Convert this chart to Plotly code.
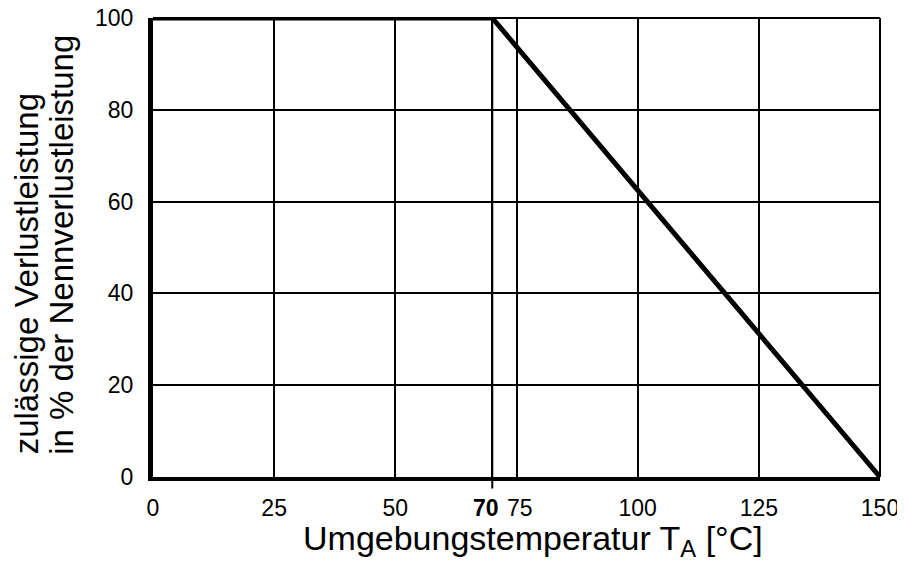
import plotly.graph_objects as go

# Data
temp_c = [0, 70, 150]
power_pct = [100, 100, 0]

x_tickvals = [0, 25, 50, 70, 75, 100, 125, 150]
x_ticktext = ["0", "25", "50", "<b>70</b>\u00a0\u00a0", "\u00a075", "100", "125", "150"]
y_tickvals = [0, 20, 40, 60, 80, 100]
y_ticktext = ["0", "20", "40", "60", "80", "100"]

x_title = "Umgebungstemperatur T<sub>A</sub> [°C]"
y_title_lines = ["zulässige Verlustleistung", "in % der Nennverlustleistung"]

fig = go.Figure()
fig.add_trace(go.Scatter(
    x=temp_c, y=power_pct, mode="lines",
    line=dict(color="black", width=5),
    cliponaxis=False, showlegend=False, hoverinfo="skip"
))

font_family = "Liberation Sans, Arial, sans-serif"

fig.update_layout(
    width=897, height=560,
    margin=dict(l=145, r=25, t=10, b=91),
    paper_bgcolor="white", plot_bgcolor="white",
    font=dict(family=font_family, color="black"),
    xaxis=dict(
        range=[0, 150], tickvals=x_tickvals, ticktext=x_ticktext,
        showgrid=True, gridcolor="black", gridwidth=2,
        showline=True, linecolor="black", linewidth=4,
        zeroline=False, ticks="", ticklabelstandoff=7, tickangle=0,
        automargin=False, ticklabeloverflow="allow",
        tickfont=dict(size=23, family=font_family, color="black"),
    ),
    yaxis=dict(
        range=[0, 100], tickvals=y_tickvals, ticktext=y_ticktext,
        showgrid=True, gridcolor="black", gridwidth=2,
        showline=True, linecolor="black", linewidth=5,
        zeroline=False, ticks="", ticklabelstandoff=10,
        automargin=False, ticklabeloverflow="allow",
        tickfont=dict(size=23, family=font_family, color="black"),
    ),
    shapes=[
        dict(type="line", xref="x domain", yref="y domain", x0=0, x1=1, y0=1, y1=1,
             line=dict(color="black", width=2)),
        dict(type="line", xref="x domain", yref="y domain", x0=1, x1=1, y0=0, y1=1,
             line=dict(color="black", width=2)),
        dict(type="line", xref="x", yref="y domain", x0=70, x1=70, y0=-0.025, y1=1,
             line=dict(color="black", width=2)),
    ],
    annotations=[
        dict(text=x_title, xref="paper", yref="paper", x=0.523, y=-0.139,
             xanchor="center", yanchor="middle", showarrow=False,
             font=dict(size=34, family=font_family, color="black")),
        dict(text=y_title_lines[0], xref="paper", yref="paper", x=-0.174, y=0.045,
             xanchor="center", yanchor="bottom", textangle=-90, showarrow=False,
             font=dict(size=33, family=font_family, color="black")),
        dict(text=y_title_lines[1], xref="paper", yref="paper", x=-0.126, y=0.045,
             xanchor="center", yanchor="bottom", textangle=-90, showarrow=False,
             font=dict(size=33, family=font_family, color="black")),
    ],
)

fig.write_html("out.html")
